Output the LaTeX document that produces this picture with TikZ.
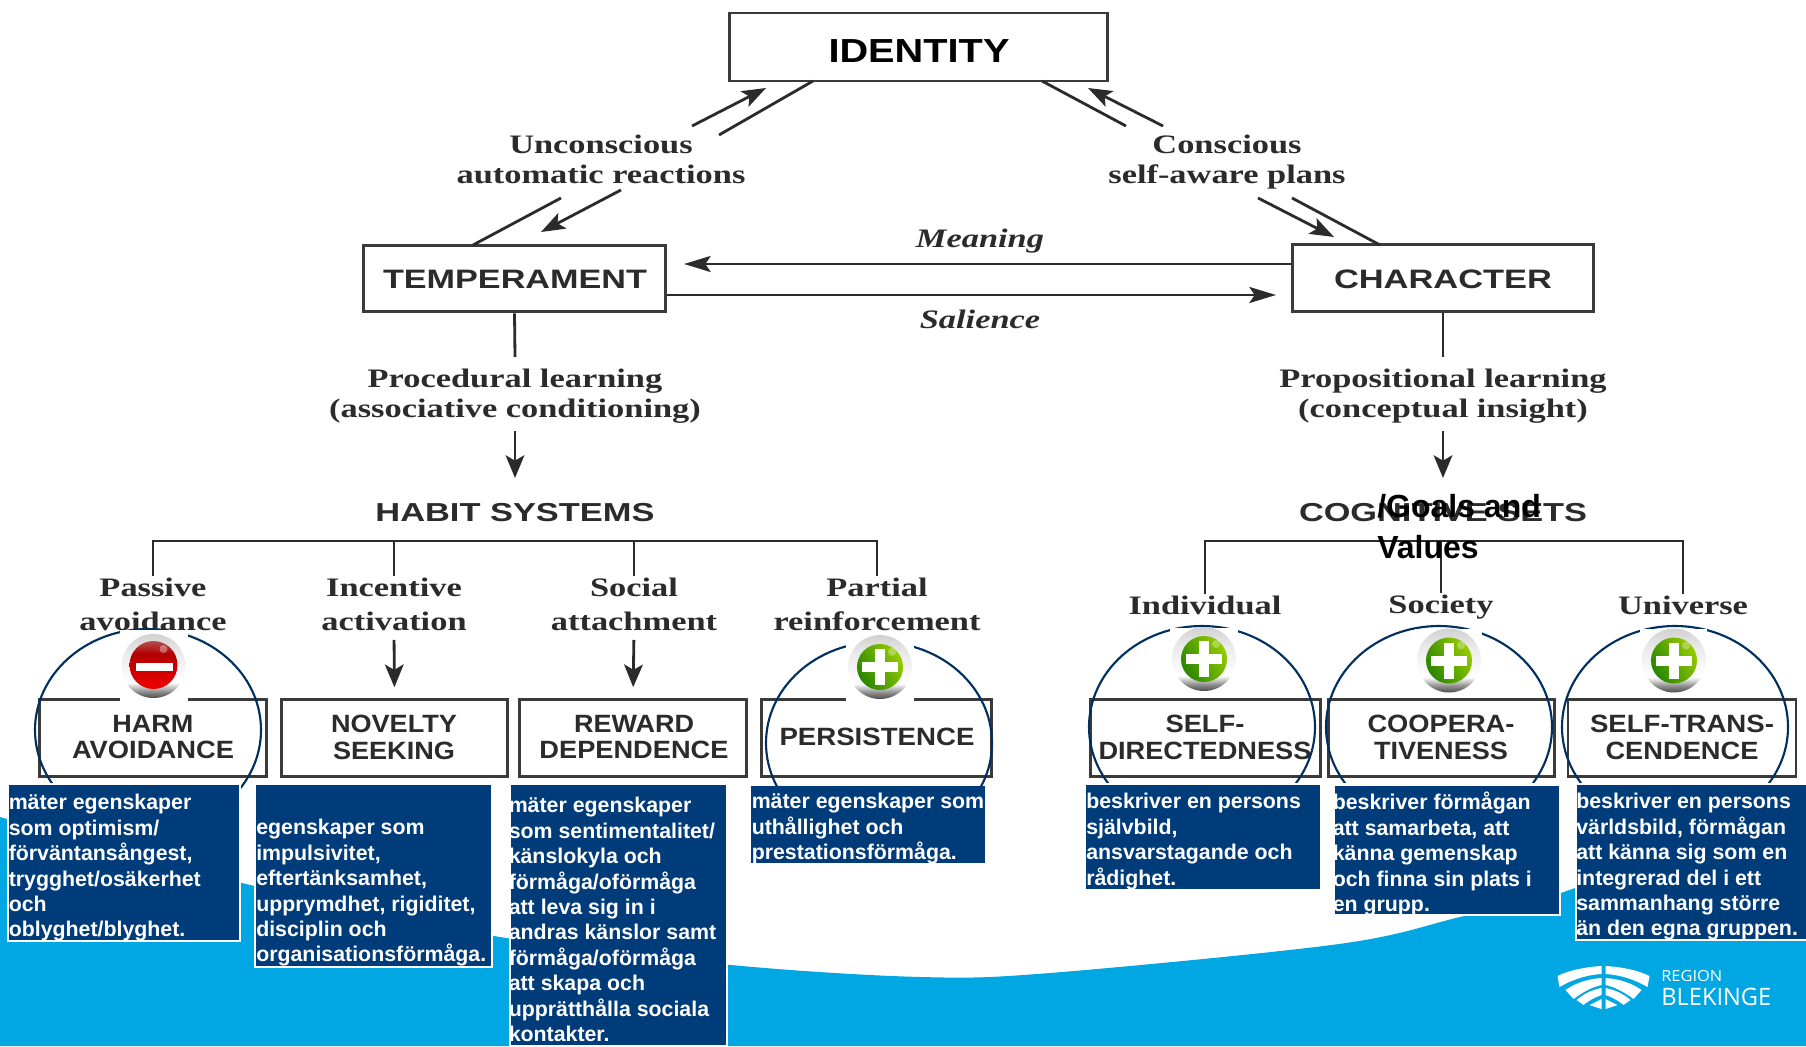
\documentclass[tikz,border=0pt]{standalone}
\usepackage{fontspec}
\usepackage{graphicx}
\usetikzlibrary{arrows.meta,fit,calc}
\newfontfamily\dgserif[FakeStretch=1.29]{Liberation Serif}
\newfontfamily\dgsans{Liberation Sans}
\newfontfamily\logofont{Open Sans}
\newdimen\pxu \pxu=0.75pt
\newcommand\W[2]{\resizebox{#1\pxu}{\height}{#2}}
\definecolor{wavecol}{HTML}{00A7E2}
\definecolor{navybox}{HTML}{003B7A}
\definecolor{ellcol}{HTML}{00305F}
\definecolor{inkcol}{HTML}{2B2B2B}
\definecolor{framecol}{HTML}{3A3A3A}
\definecolor{gdark}{HTML}{2A8500}
\definecolor{gbright}{HTML}{96CC00}
\pgfdeclareverticalshading{ringsh}{100bp}{color(0bp)=(black!80); color(25bp)=(black!70); color(30bp)=(black!45); color(37bp)=(white); color(60bp)=(black!8); color(75bp)=(black!18); color(100bp)=(black!18)}
\pgfdeclareverticalshading{redsh}{100bp}{color(0bp)=(red!95!black); color(25bp)=(red!95!black); color(45bp)=(red!80!black); color(62bp)=(red!70!black); color(75bp)=(red!55!white!70!black); color(100bp)=(red!55!white!70!black)}
\tikzset{
  wire/.style={draw=inkcol,line width=2.1pt},
  arrv/.style={wire,-{Stealth[length=17pt,width=14pt,inset=4pt]}},
  arrh/.style={wire,-{Stealth[length=20pt,width=12pt,inset=4pt]}},
  arrd/.style={wire,-{Stealth[length=18pt,width=13pt,inset=4pt]}},
  framebox/.style={draw=framecol,line width=2.2pt,fill=white,inner sep=0pt},
  sanslbl/.style={text=inkcol,inner sep=0pt,align=center,font=\dgsans\bfseries\fontsize{18.75}{20.2}\selectfont},
  seriflbl/.style={text=inkcol,inner sep=1pt,align=center,font=\dgserif\bfseries\fontsize{20}{25.5}\selectfont},
  serifup/.style={seriflbl,font=\dgserif\bfseries\fontsize{20}{22.6}\selectfont},
  bbox/.style={fill=navybox,inner sep=0pt},
  bboxw/.style={bbox,draw=white,line width=1.4pt},
  btext/.style={anchor=north west,inner sep=0pt,text=white,align=left,font=\dgsans\bfseries\fontsize{16}{19.1}\selectfont},
  ell/.style={draw=ellcol,line width=1.6pt},
  pics/ring/.style={code={\shade[shading=ringsh] (0,0) circle (32);}},
  pics/minusicon/.style={code={
    \pic {ring};
    \shade[shading=redsh] (0,-1) circle (24);
    \fill[white,opacity=.35] (10,-17) circle (4);
    \fill[white] (-18,-3) rectangle (19,5);}},
  pics/plusicon/.style={code={
    \pic {ring};
    \shade[left color=gdark,right color=gbright,shading angle=120] (0,0) circle (23);
    \fill[white,opacity=.3] (12,-15) circle (4);
    \fill[white] (-18,-5) rectangle (18,5);
    \fill[white] (-5,-18) rectangle (5,18);}},
}
\newcommand\arcell[3]{\begin{scope}\clip (#1-125,#2-110) rectangle (#1+125,#3);
  \draw[ell] (#1,#2) ellipse [x radius=113,y radius=101];\end{scope}}
\begin{document}
\begin{tikzpicture}[x=0.75pt,y=-0.75pt]
\useasboundingbox (0,0) rectangle (1806,1046);
\fill[white] (0,0) rectangle (1806,1046);
% wave
\fill[wavecol] plot[smooth,tension=.55] coordinates {(0,817) (242,883) (500,937) (731,965) (921,977) (1050,973) (1339,944) (1460,917) (1575,888) (1806,790)} -- (1806,1046) -- (0,1046) -- cycle;

% top boxes
\node[framebox,minimum width=284pt,minimum height=51pt] (identity) at (918.5,47) {};
\node[sanslbl,text=black,font=\dgsans\bfseries\fontsize{25}{27}\selectfont] (identitytxt) at (919,51) {\W{181}{IDENTITY}};
\node[framebox,minimum width=226pt,minimum height=50pt] (temperament) at (514.5,278.5) {};
\node[sanslbl,font=\dgsans\bfseries\fontsize{20}{22}\selectfont] (temptxt) at (515,279) {\W{264}{TEMPERAMENT}};
\node[framebox,minimum width=226pt,minimum height=50pt] (character) at (1443,278) {};
\node[sanslbl,font=\dgsans\bfseries\fontsize{20}{22}\selectfont] (chartxt) at (1443,279) {\W{218}{CHARACTER}};

% labels top
\node[serifup] (unconscious) at (601,159) {Unconscious\\automatic reactions};
\node[serifup] (conscious) at (1227,162) {Conscious\\self-aware plans};
\node[seriflbl,font=\dgserif\bfseries\itshape\fontsize{20}{22}\selectfont] (meaning) at (980,241) {Meaning};
\node[seriflbl,font=\dgserif\bfseries\itshape\fontsize{20}{22}\selectfont] (salience) at (980,319) {Salience};
\node[serifup] (procedural) at (515,396.5) {Procedural learning\\(associative conditioning)};
\node[serifup] (propositional) at (1443,396.5) {Propositional learning\\(conceptual insight)};
\node[sanslbl,font=\dgsans\bfseries\fontsize{19.5}{22}\selectfont] (habit) at (515,513) {\W{279}{HABIT SYSTEMS}};
\node[sanslbl,font=\dgsans\bfseries\fontsize{19.5}{22}\selectfont] (cognitive) at (1443,513) {\W{288}{COGNITIVE SETS}};

% free ends
\coordinate (a1) at (813,81); \coordinate (a2) at (719,135);
\coordinate (a3) at (692,126); \coordinate (a4) at (766,88);
\coordinate (b1) at (1042,81); \coordinate (b2) at (1126,126);
\coordinate (b3) at (1163,126); \coordinate (b4) at (1088,88);
\coordinate (c1) at (561,198); \coordinate (c2) at (473,245);
\coordinate (c3) at (621,190); \coordinate (c4) at (541,232);
\coordinate (d1) at (1292,198); \coordinate (d2) at (1380,245);
\coordinate (d3) at (1258,198); \coordinate (d4) at (1334,237);
\coordinate (mend) at (684,264);
\coordinate (send) at (1276,295);
\coordinate (tstem) at (515,357);
\coordinate (cstem) at (1443,357);
\coordinate (parr) at (515,431); \coordinate (qarr) at (1443,431);
\coordinate (harr) at (515,478); \coordinate (garr) at (1443,478);

\draw[wire] (a1) -- (a2);
\draw[arrd] (a3) -- (a4);
\draw[wire] (b1) -- (b2);
\draw[arrd] (b3) -- (b4);
\draw[wire] (c1) -- (c2);
\draw[arrd] (c3) -- (c4);
\draw[wire] (d1) -- (d2);
\draw[arrd] (d3) -- (d4);
\draw[arrh] (character.west |- mend) -- (mend);
\draw[arrh] (temperament.east |- send) -- (send);
\draw[wire] (temperament.south) -- (tstem);
\draw[wire] (character.south) -- (cstem);
\draw[arrv] (parr) -- (harr);
\draw[arrv] (qarr) -- (garr);

% habit branch
\coordinate (hbar) at (515,541);
\coordinate (gbar) at (1443,541);
\node[seriflbl] (passive) at (153,604) {Passive\\avoidance};
\node[seriflbl] (incentive) at (394,604) {Incentive\\activation};
\node[seriflbl] (social) at (634,604) {Social\\attachment};
\node[seriflbl] (partial) at (877,604) {Partial\\reinforcement};
\node[seriflbl] (individual) at (1205,605) {Individual};
\node[seriflbl] (society) at (1441,607) {Society};
\node[seriflbl] (universe) at (1683,605) {Universe};
\draw[wire] (passive.north) |- (partial.north |- hbar) -- (partial.north);
\draw[wire] (incentive.north) -- (incentive.north |- hbar);
\draw[wire] (social.north) -- (social.north |- hbar);
\draw[wire] (individual.north) |- (universe.north |- gbar) -- (universe.north);
\draw[wire] (society.north) -- (society.north |- gbar);

% lower boxes
\node[framebox,minimum width=170pt,minimum height=58pt] (harm) at (153,738) {};
\node[framebox,minimum width=170pt,minimum height=58pt] (novelty) at (394.5,738) {};
\node[framebox,minimum width=170pt,minimum height=58pt] (reward) at (633,738) {};
\node[framebox,minimum width=172pt,minimum height=58pt] (persistence) at (876.5,738) {};
\node[framebox,minimum width=172pt,minimum height=58pt] (selfdir) at (1205.5,738) {};
\node[framebox,minimum width=170pt,minimum height=58pt] (coop) at (1441.5,738) {};
\node[framebox,minimum width=171pt,minimum height=58pt] (selftrans) at (1682,738) {};
\draw[arrv,shorten <=6pt,shorten >=8pt] (incentive.south) -- (novelty.north);
\draw[arrv,shorten <=6pt,shorten >=8pt] (social.south) -- (reward.north);
\node[sanslbl] (harmtxt) at (153,737) {\W{81}{HARM}\\\W{162}{AVOIDANCE}};
\node[sanslbl] (noveltytxt) at (394,737) {\W{126}{NOVELTY}\\\W{122}{SEEKING}};
\node[sanslbl] (rewardtxt) at (634,737) {\W{120}{REWARD}\\\W{189}{DEPENDENCE}};
\node[sanslbl] (perstxt) at (877,737) {\W{195}{PERSISTENCE}};
\node[sanslbl] (selfdirtxt) at (1205,737) {\W{79}{SELF-}\\\W{213}{DIRECTEDNESS}};
\node[sanslbl] (cooptxt) at (1441,737) {\W{147}{COOPERA-}\\\W{134}{TIVENESS}};
\node[sanslbl] (transtxt) at (1682,737) {\W{184}{SELF-TRANS-}\\\W{153}{CENDENCE}};

% overlay title
\node[anchor=west,inner sep=0pt,align=left,text=black,font=\dgsans\bfseries\fontsize{24}{30.5}\selectfont] (goals) at (1377,526.5) {/Goals and\\Values};

% ellipses
\arcell{148}{730}{788}
\arcell{879}{743}{785}
\arcell{1202}{727}{782}
\arcell{1439}{727}{782}
\arcell{1675}{727}{782}

% icons with white patches
\fill[white] (120,630) rectangle (188,702);
\fill[white] (846,637) rectangle (914,701);
\fill[white] (1170,628) rectangle (1238,697);
\fill[white] (1415,629) rectangle (1482,697);
\fill[white] (1640,629) rectangle (1707,697);
\pic at (153.5,666) {minusicon};
\pic at (880,667) {plusicon};
\pic at (1204,659) {plusicon};
\pic at (1449,660.5) {plusicon};
\pic at (1674,660.5) {plusicon};

% blue boxes
\node[bboxw,fit={(8,784)(240,941)}] (box1) {};
\node[bboxw,fit={(255,784)(492,967)}] (box2) {};
\node[bboxw,fit={(510,784)(727,1046)}] (box3) {};
\node[bbox,fit={(751,786)(985,863)}] (box4) {};
\node[bbox,fit={(1086,785)(1320,889)}] (box5) {};
\node[bboxw,fit={(1334,785)(1560,915)}] (box6) {};
\node[bboxw,fit={(1576,784)(1807,940)}] (box7) {};
\node[btext] (t1) at (8.5,788) {\rule{0pt}{16pt}mäter egenskaper\\som optimism/\\förväntansångest,\\trygghet/osäkerhet\\och\\oblyghet/blyghet.};
\node[btext] (t2) at (256,813) {\rule{0pt}{16pt}egenskaper som\\impulsivitet,\\eftertänksamhet,\\upprymdhet, rigiditet,\\disciplin och\\organisationsförmåga.};
\node[btext] (t3) at (508.5,791) {\rule{0pt}{16pt}mäter egenskaper\\som sentimentalitet/\\känslokyla och\\förmåga/oförmåga\\att leva sig in i\\andras känslor samt\\förmåga/oförmåga\\att skapa och\\upprätthålla sociala\\kontakter.};
\node[btext] (t4) at (751.5,787) {\rule{0pt}{16pt}mäter egenskaper som\\uthållighet och\\prestationsförmåga.};
\node[btext] (t5) at (1086,787) {\rule{0pt}{16pt}beskriver en persons\\självbild,\\ansvarstagande och\\rådighet.};
\node[btext] (t6) at (1332.5,788) {\rule{0pt}{16pt}beskriver förmågan\\att samarbeta, att\\känna gemenskap\\och finna sin plats i\\en grupp.};
\node[btext] (t7) at (1576,787) {\rule{0pt}{16pt}beskriver en persons\\världsbild, förmågan\\att känna sig som en\\integrerad del i ett\\sammanhang större\\än den egna gruppen.};

% logo
\foreach \s in {1,-1}{
\begin{scope}[shift={(1603.5,950)},xscale=\s]
\fill[white] (2,16) .. controls (18,17) and (34,20) .. (46,26) -- (44,37) .. controls (32,30) and (18,25) .. (2,24) -- cycle;
\fill[white] (2,28) .. controls (16,29) and (28,33) .. (38,40) -- (30,49) .. controls (22,43) and (12,37) .. (2,35) -- cycle;
\fill[white] (2,38) .. controls (12,40) and (20,44) .. (27,50) -- (20,55) .. controls (14,50) and (8,47) .. (2,45) -- cycle;
\fill[white] (2,49) -- (14,55) -- (2,59) -- cycle;
\end{scope}}
\node[anchor=west,inner sep=0pt,text=white,font=\logofont\fontsize{11.5}{13}\selectfont] (region) at (1661,976) {\W{61}{REGION}};
\node[anchor=west,inner sep=0pt,text=white,font=\logofont\fontsize{18}{20}\selectfont] (blekinge) at (1661,997) {\W{110}{BLEKINGE}};
\end{tikzpicture}
\end{document}
